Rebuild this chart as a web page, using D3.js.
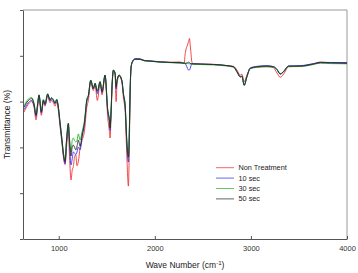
<!DOCTYPE html>
<html>
<head>
<meta charset="utf-8">
<script src="https://cdn.jsdelivr.net/npm/d3@7"></script>
<style>
  body { margin: 0; background: #fff; }
  svg { display: block; font-family: "Liberation Sans", Arial, sans-serif; }
</style>
</head>
<body>
<svg id="chart" width="358" height="273"></svg>
<script>
// wave numbers shared by all four spectra
const waveNumber = [640, 670, 719, 743, 764, 779, 795, 819, 840, 857, 885, 909, 925, 944, 961, 979, 993,
  1014, 1034, 1048, 1066, 1081, 1100, 1112, 1128, 1140, 1152, 1165, 1177, 1190, 1204, 1222, 1243, 1267,
  1292, 1308, 1333, 1360, 1378, 1402, 1430, 1451, 1482, 1510, 1527, 1534, 1545, 1555, 1569, 1586, 1597,
  1607, 1628, 1656, 1675, 1691, 1708, 1725, 1735, 1743, 1753, 1767, 1795, 1847, 1889, 1951, 2055, 2159,
  2264, 2305, 2316, 2326, 2340, 2350, 2361, 2368, 2375, 2385, 2399, 2472, 2610, 2732, 2819, 2854, 2889,
  2906, 2930, 2958, 2993, 3062, 3167, 3235, 3271, 3305, 3340, 3392, 3514, 3652, 3722, 3826, 4000];

const nonTreatment = [55.5, 58.0, 60.0, 57.5, 52.0, 57.0, 62.0, 54.0, 59.8, 58.0, 62.5, 59.5, 60.5, 59.5, 58.0, 59.8, 57.0,
  49.0, 41.5, 36.0, 32.5, 40.0, 47.5, 36.0, 25.8, 30.0, 31.6, 36.0, 36.7, 32.0, 33.8, 39.7, 43.0, 47.0,
  57.5, 60.5, 68.5, 64.8, 67.3, 60.5, 68.0, 63.0, 71.0, 53.0, 47.0, 44.1, 54.0, 66.0, 73.3, 72.0, 60.0,
  68.0, 71.2, 68.8, 61.0, 56.0, 37.0, 23.1, 41.0, 62.0, 74.5, 77.2, 78.5, 78.5, 77.9, 77.7, 77.3, 77.2,
  77.3, 76.6, 80.9, 83.0, 84.7, 86.2, 87.6, 84.7, 81.8, 77.4, 76.5, 76.4, 76.3, 75.8, 75.4, 73.8, 71.6,
  72.0, 68.7, 71.5, 74.5, 75.0, 75.3, 74.8, 72.5, 70.6, 72.0, 75.2, 75.5, 76.5, 77.3, 77.0, 77.0];

const sec10 = [56.5, 58.8, 60.5, 58.2, 53.5, 58.0, 62.5, 55.0, 60.3, 58.5, 63.0, 60.2, 61.2, 60.2, 59.0, 60.5, 58.0,
  50.0, 42.5, 36.8, 33.0, 42.0, 49.5, 41.0, 32.3, 35.0, 38.0, 37.5, 36.8, 38.0, 40.2, 38.9, 44.5, 50.0,
  60.0, 62.2, 69.0, 65.5, 67.8, 63.5, 68.5, 64.0, 71.4, 55.5, 51.0, 47.5, 55.8, 67.0, 73.6, 72.3, 65.5,
  69.0, 71.4, 69.2, 62.5, 57.8, 41.5, 33.6, 46.0, 64.5, 75.0, 77.6, 78.8, 78.7, 78.0, 77.8, 77.4, 77.1,
  76.9, 76.8, 76.5, 75.9, 74.5, 73.8, 73.8, 74.5, 75.5, 76.6, 76.5, 76.4, 76.2, 75.8, 75.2, 73.1, 70.7,
  71.0, 67.0, 70.7, 74.7, 75.4, 75.7, 75.3, 74.0, 72.0, 73.2, 75.6, 75.7, 76.6, 77.1, 77.1, 77.0];

const sec30 = [58.2, 60.5, 61.8, 59.2, 54.5, 58.8, 63.0, 56.0, 61.0, 59.3, 63.5, 61.0, 61.8, 60.9, 59.6, 61.0, 58.7,
  51.0, 43.5, 38.0, 34.5, 43.5, 50.5, 44.0, 38.0, 43.0, 44.1, 43.0, 42.4, 43.0, 45.9, 43.2, 47.0, 51.5,
  61.0, 62.8, 69.4, 65.8, 68.0, 64.8, 68.7, 64.6, 71.6, 56.5, 52.3, 49.0, 56.5, 67.2, 73.8, 72.5, 66.8,
  69.4, 71.6, 69.4, 63.0, 58.8, 43.5, 36.0, 48.0, 65.3, 75.2, 77.3, 78.4, 78.4, 77.8, 77.6, 77.2, 77.0,
  76.8, 76.7, 76.6, 76.6, 76.6, 76.6, 76.5, 76.5, 76.5, 76.4, 76.3, 76.2, 76.0, 75.6, 75.0, 73.0, 70.8,
  71.0, 67.2, 70.8, 74.3, 75.0, 75.2, 75.0, 73.9, 72.0, 72.9, 75.3, 75.3, 76.2, 76.8, 76.6, 76.5];

const sec50 = [57.6, 59.8, 61.3, 59.0, 54.1, 58.5, 62.9, 55.6, 60.7, 59.0, 63.3, 60.7, 61.6, 60.7, 59.4, 60.9, 58.5,
  50.7, 43.2, 37.6, 33.8, 43.2, 50.5, 43.2, 36.2, 40.0, 41.0, 40.0, 38.9, 40.5, 43.2, 40.5, 45.4, 50.7,
  60.7, 62.6, 69.4, 65.8, 68.0, 64.5, 68.7, 64.4, 71.6, 56.3, 52.0, 48.5, 56.3, 67.2, 73.8, 72.5, 66.5,
  69.4, 71.6, 69.4, 62.9, 58.5, 43.2, 35.8, 47.6, 65.1, 75.2, 77.4, 78.5, 78.5, 77.9, 77.7, 77.3, 77.1,
  77.0, 76.8, 76.7, 76.8, 77.0, 77.2, 77.0, 76.6, 76.6, 76.5, 76.5, 76.4, 76.2, 75.8, 75.2, 73.1, 70.9,
  71.2, 67.2, 70.9, 74.5, 75.2, 75.5, 75.2, 74.1, 72.1, 73.1, 75.5, 75.5, 76.4, 77.0, 76.9, 76.7];

const seriesNames = ["Non Treatment", "10 sec", "30 sec", "50 sec"];
const seriesValues = [nonTreatment, sec10, sec30, sec50];
const seriesColors = ["#ee2a2a", "#2a2aee", "#1fb21f", "#222222"];

const xTicks = [1000, 2000, 3000, 4000];
const yTicks = [0, 20, 40, 60, 80, 100];

const svg = d3.select("#chart");
const margin = {left: 23, right: 11, top: 10, bottom: 34};
const W = 358, H = 273;

const x = d3.scaleLinear().domain([628, 4000]).range([margin.left, W - margin.right]);
const y = d3.scaleLinear().domain([0, 100]).range([H - margin.bottom, margin.top]);

// frame on top and right
svg.append("path")
    .attr("d", `M${x(628)},${y(100)}H${x(4000)}V${y(0)}`)
    .attr("fill", "none")
    .attr("stroke", "#999")
    .attr("stroke-width", 1);

const line = d3.line()
    .x((d, i) => x(waveNumber[i]))
    .y(d => y(d))
    .curve(d3.curveMonotoneX);

svg.append("g")
    .selectAll("path")
    .data(seriesValues)
    .join("path")
    .attr("d", d => line(d))
    .attr("fill", "none")
    .attr("stroke", (d, i) => seriesColors[i])
    .attr("stroke-width", 0.85)
    .attr("stroke-linejoin", "round");

// axes
const xAxis = svg.append("g")
    .attr("transform", `translate(0,${y(0)})`)
    .call(d3.axisBottom(x).tickValues(xTicks).tickFormat(d3.format("d"))
        .tickSizeInner(-3).tickSizeOuter(0).tickPadding(7));
xAxis.select(".domain").attr("stroke", "#555");
xAxis.selectAll(".tick line").attr("stroke", "#555");
xAxis.selectAll("text").attr("font-size", 7.5).attr("fill", "#333").attr("font-family", "Liberation Sans, Arial, sans-serif");

const yAxis = svg.append("g")
    .attr("transform", `translate(${x(628)},0)`)
    .call(d3.axisLeft(y).tickValues(yTicks).tickSize(3).tickSizeOuter(0).tickFormat(""));
yAxis.select(".domain").attr("stroke", "#555");
yAxis.selectAll(".tick line").attr("stroke", "#555");

// axis titles
const xTitle = svg.append("text")
    .attr("x", (x(628) + x(4000)) / 2)
    .attr("y", 268)
    .attr("text-anchor", "middle")
    .attr("font-size", 8.5)
    .attr("fill", "#222");
xTitle.append("tspan").text("Wave Number (cm");
xTitle.append("tspan").attr("dy", -3.5).attr("font-size", 6).text("-1");
xTitle.append("tspan").attr("dy", 3.5).text(")");

svg.append("text")
    .attr("transform", `translate(10,${(y(0) + y(100)) / 2}) rotate(-90)`)
    .attr("text-anchor", "middle")
    .attr("font-size", 8.5)
    .attr("fill", "#222")
    .text("Transmittance (%)");

// legend
const legend = svg.append("g")
    .selectAll("g")
    .data(seriesNames)
    .join("g")
    .attr("transform", (d, i) => `translate(216,${167.7 + i * 10.4})`);
legend.append("line")
    .attr("x1", 0).attr("x2", 18)
    .attr("stroke", (d, i) => seriesColors[i])
    .attr("stroke-opacity", 0.7)
    .attr("stroke-width", 1);
legend.append("text")
    .attr("x", 22.5)
    .attr("dy", "0.35em")
    .attr("font-size", 7.3)
    .attr("fill", "#222")
    .text(d => d);
</script>
</body>
</html>
